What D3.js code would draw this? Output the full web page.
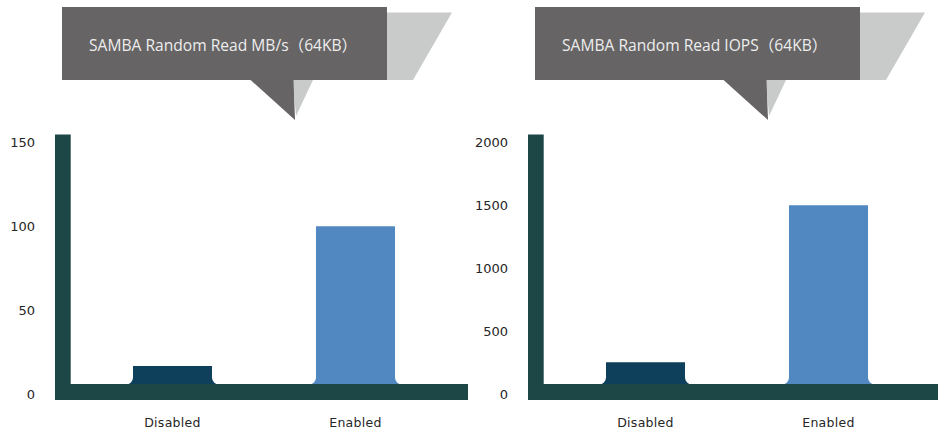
<!DOCTYPE html>
<html>
<head>
<meta charset="utf-8">
<script src="https://cdn.jsdelivr.net/npm/d3@7"></script>
<style>
  html, body { margin: 0; padding: 0; background: #fff; }
  svg { display: block; }
  .tick-label { font-family: "DejaVu Sans", sans-serif; font-size: 13px; fill: #262626; }
  .cat-label { font-family: "DejaVu Sans", sans-serif; font-size: 12.5px; fill: #262626; letter-spacing: 0.3px; }
  .title { font-family: "Open Sans", "Noto Sans CJK SC", sans-serif; font-size: 15.6px; fill: #ededed; }
</style>
</head>
<body>
<svg id="chart" width="938" height="432"></svg>
<script>
// chart data
const categories = ['Disabled', 'Enabled'];
const mbpsValues = [17, 100];
const iopsValues = [255, 1500];
const mbpsTicks = [0, 50, 100, 150];
const iopsTicks = [0, 500, 1000, 1500, 2000];
const titles = ['SAMBA Random Read MB/s（64KB）', 'SAMBA Random Read IOPS（64KB）'];

const colors = {
    axis: '#1d4747',
    bars: ['#0f405b', '#5188c2'],
    callout: '#666465',
    shadow: '#c9caca'
};

const svg = d3.select('#chart');

const panels = [
    { ox: 55, values: mbpsValues, ticks: mbpsTicks, title: titles[0] },
    { ox: 528, values: iopsValues, ticks: iopsTicks, title: titles[1] }
];

// shared layout (local to each panel)
const axisW = 15.7;
const baseTop = 384;
const baseBottom = 400;
const panelW = 413;
const barW = 79;
const fillet = 7;

panels.forEach(p => {
    const g = svg.append('g').attr('transform', `translate(${p.ox},0)`);
    const maxTick = d3.max(p.ticks);

    const y = d3.scaleLinear()
        .domain([0, maxTick])
        .range([394.5, 142.2]);

    const x = d3.scalePoint()
        .domain(categories)
        .range([26, 392])
        .padding(0.5);

    // callout box with shadow
    const c = g.append('g').attr('class', 'callout');
    c.append('path')
        .attr('d', 'M332,12.5 L397,12.5 L358,80 L332,80 Z')
        .attr('fill', colors.shadow);
    c.append('path')
        .attr('d', 'M238,80 L258,80 L241,116 Z')
        .attr('fill', colors.shadow);
    c.append('rect')
        .attr('x', 7).attr('y', 7)
        .attr('width', 325).attr('height', 73)
        .attr('fill', colors.callout);
    c.append('path')
        .attr('d', 'M195,79.5 L238.5,79.5 L240,120 Z')
        .attr('fill', colors.callout);
    c.append('text')
        .attr('class', 'title')
        .attr('x', 34)
        .attr('y', 51)
        .text(p.title);

    // bars with a concave fillet where they meet the base
    const barPath = (d, i) => {
        const x0 = x(categories[i]) - barW / 2;
        const x1 = x0 + barW;
        const top = y(d);
        const b = baseTop + 0.5;
        return `M${x0 - fillet},${b}` +
            ` A${fillet},${fillet} 0 0 0 ${x0},${b - fillet}` +
            ` L${x0},${top} L${x1},${top} L${x1},${b - fillet}` +
            ` A${fillet},${fillet} 0 0 0 ${x1 + fillet},${b} Z`;
    };

    g.append('g')
        .selectAll('path')
        .data(p.values)
        .enter().append('path')
        .attr('d', barPath)
        .attr('fill', (d, i) => colors.bars[i]);

    // thick L-shaped axis
    g.append('rect')
        .attr('x', 0)
        .attr('y', y(maxTick) - 7.7)
        .attr('width', axisW)
        .attr('height', baseBottom - (y(maxTick) - 7.7))
        .attr('fill', colors.axis);
    g.append('rect')
        .attr('x', 0)
        .attr('y', baseTop)
        .attr('width', panelW)
        .attr('height', baseBottom - baseTop)
        .attr('fill', colors.axis);

    // y tick labels
    g.append('g')
        .selectAll('text')
        .data(p.ticks)
        .enter().append('text')
        .attr('class', 'tick-label')
        .attr('x', -20)
        .attr('y', d => y(d))
        .attr('dy', '0.36em')
        .attr('text-anchor', 'end')
        .text(d => d);

    // category labels
    g.append('g')
        .selectAll('text')
        .data(categories)
        .enter().append('text')
        .attr('class', 'cat-label')
        .attr('x', d => x(d))
        .attr('y', 426.5)
        .attr('text-anchor', 'middle')
        .text(d => d);
});
</script>
</body>
</html>
